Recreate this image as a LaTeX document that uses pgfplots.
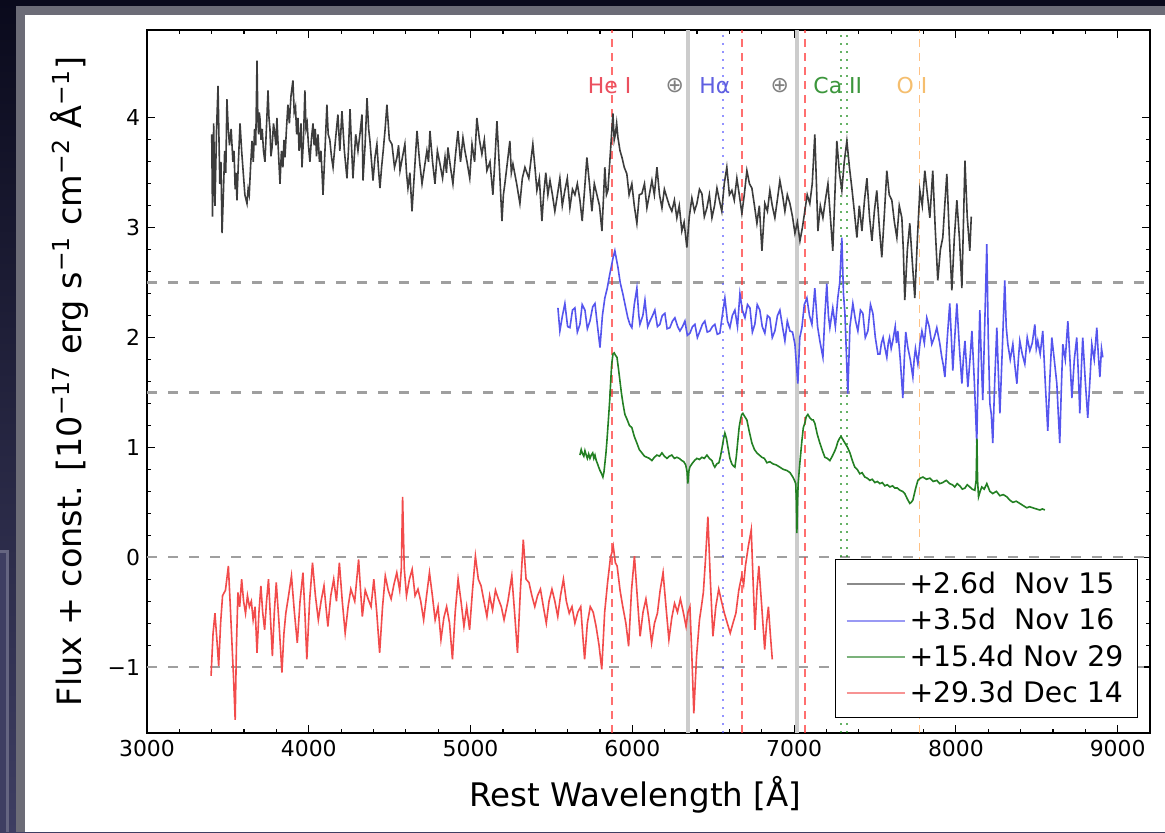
\documentclass[border=0pt]{standalone}
\usepackage{fontspec}
\setmainfont{DejaVu Sans}
\usepackage{pgfplots}
\pgfplotsset{compat=1.18}
\definecolor{bgtop}{RGB}{10,10,28}
\definecolor{bgbot}{RGB}{62,62,98}
\definecolor{spk}{RGB}{60,60,60}
\definecolor{spb}{RGB}{85,85,238}
\definecolor{spg}{RGB}{35,128,35}
\definecolor{spr}{RGB}{242,75,75}
\definecolor{hered}{RGB}{235,80,95}
\definecolor{hablue}{RGB}{95,95,225}
\definecolor{cagreen}{RGB}{60,150,60}
\definecolor{oorange}{RGB}{245,190,110}
\begin{document}
\begin{tikzpicture}[x=0.5bp,y=0.5bp]
\path[use as bounding box] (0,0) rectangle (1165,832);
\shade[top color=bgtop,bottom color=bgbot] (0,0) rectangle (1165,832);
\fill[bgbot!80!white] (-5,0) rectangle (9,282);
\fill[bgbot] (-5,0) rectangle (6,279);
\fill[gray!70!bgbot] (16,0) rectangle (1165,826);
\fill[white] (25,0) rectangle (1165,817);
\begin{axis}[
  at={(73.5bp,49.5bp)}, anchor=south west, scale only axis,
  width=501.5bp, height=351.5bp,
  xmin=3000, xmax=9200, ymin=-1.6, ymax=4.8,
  xtick={3000,4000,5000,6000,7000,8000,9000},
  xticklabels={3000,4000,5000,6000,7000,8000,9000},
  ytick={-1,0,1,2,3,4}, yticklabels={−1,0,1,2,3,4},
  minor x tick num=4, minor y tick num=4,
  tick align=inside, major tick length=4bp, minor tick length=2bp,
  every tick/.style={black, line width=0.6bp},
  axis line style={line width=0.8bp},
  ticklabel style={font=\fontsize{11}{13}\selectfont},
  xlabel={Rest Wavelength [Å]},
  ylabel={Flux + const. [10\textsuperscript{−17} erg s\textsuperscript{−1} cm\textsuperscript{−2} Å\textsuperscript{−1}]},
  xlabel style={font=\fontsize{16.3}{19}\selectfont, at={(axis description cs:0.487,-0.088)}, anchor=center},
  ylabel style={font=\fontsize{16.8}{19}\selectfont, at={(axis description cs:-0.077,0.5)}, anchor=center},
  legend style={at={(0.988,0.021)}, anchor=south east, draw=black, line width=0.6bp,
    font=\fontsize{14.2}{17}\selectfont, inner xsep=5bp, inner ysep=4bp, row sep=2bp},
  legend cell align=left,
  legend image code/.code={\draw[#1, opacity=0.6, line width=1bp] (0bp,0bp) -- (29bp,0bp);},
]
% horizontal reference lines
\addplot[forget plot, gray!75, line width=1.2bp, dash pattern=on 5bp off 5.5bp] coordinates {(3000,2.5) (9200,2.5)};
\addplot[forget plot, gray!75, line width=1.2bp, dash pattern=on 5bp off 5.5bp] coordinates {(3000,1.5) (9200,1.5)};
\addplot[forget plot, gray!75, line width=1.2bp, dash pattern=on 5bp off 5.5bp] coordinates {(3000,0) (9200,0)};
\addplot[forget plot, gray!75, line width=1.2bp, dash pattern=on 5bp off 5.5bp] coordinates {(3000,-1) (9200,-1)};
% telluric bands
\addplot[forget plot, gray!40, line width=2bp] coordinates {(6343,-1.6) (6343,4.8)};
\addplot[forget plot, gray!40, line width=2bp] coordinates {(7017,-1.6) (7017,4.8)};
% line markers
\addplot[forget plot, red!80, opacity=0.7, line width=0.9bp, dash pattern=on 4bp off 3bp] coordinates {(5876,-1.6) (5876,4.8)};
\addplot[forget plot, red!80, opacity=0.7, line width=0.9bp, dash pattern=on 4bp off 3bp] coordinates {(6678,-1.6) (6678,4.8)};
\addplot[forget plot, red!80, opacity=0.7, line width=0.9bp, dash pattern=on 4bp off 3bp] coordinates {(7065,-1.6) (7065,4.8)};
\addplot[forget plot, blue!70, opacity=0.6, line width=1bp, dash pattern=on 1.2bp off 2.8bp] coordinates {(6563,-1.6) (6563,4.8)};
\addplot[forget plot, green!50!black, opacity=0.6, line width=1bp, dash pattern=on 1.2bp off 2.8bp] coordinates {(7291,-1.6) (7291,4.8)};
\addplot[forget plot, green!50!black, opacity=0.6, line width=1bp, dash pattern=on 1.2bp off 2.8bp] coordinates {(7324,-1.6) (7324,4.8)};
\addplot[forget plot, orange!80, opacity=0.6, line width=0.8bp, dash pattern=on 4bp off 3bp] coordinates {(7774,-1.6) (7774,4.8)};
% spectra
\addplot[spk, line width=0.8bp] coordinates {
(3400,3.85)(3405,3.1)(3412,3.95)(3420,3.2)(3430,3.9)(3439,4.29)(3450,3.4)(3457,3.6)(3464,2.95)(3472,3.3)(3480,3.7)(3487,3.5)(3494,4.17)(3502,3.9)(3510,3.75)(3520,3.9)(3531,3.6)(3538,3.7)(3545,3.35)(3550,3.5)(3556,3.25)(3565,3.6)(3575,3.95)(3585,3.7)(3595,3.5)(3605,3.3)(3618,3.22)(3625,3.35)(3632,3.3)(3640,3.55)(3649,3.79)(3657,3.6)(3665,3.9)(3672,3.75)(3680,4.52)(3685,4.0)(3690,3.85)(3694,4.05)(3698,4.0)(3705,3.8)(3712,3.9)(3720,3.7)(3729,3.6)(3738,3.9)(3748,4.25)(3754,4.0)(3760,3.9)(3766,3.65)(3773,3.73)(3782,3.95)(3790,3.85)(3797,3.75)(3803,4.0)(3812,3.7)(3822,3.4)(3831,3.7)(3840,3.55)(3847,3.8)(3853,3.64)(3862,3.9)(3871,4.12)(3880,3.95)(3890,4.2)(3902,4.34)(3910,4.05)(3918,4.1)(3925,3.85)(3933,4.0)(3940,3.7)(3945,3.75)(3952,3.95)(3958,3.55)(3967,3.8)(3976,4.25)(3983,3.9)(3990,3.95)(3998,3.75)(4007,3.6)(4016,3.8)(4026,3.95)(4033,3.75)(4040,3.9)(4048,3.65)(4057,3.85)(4066,3.6)(4075,3.7)(4082,3.5)(4088,3.3)(4100,3.7)(4112,4.12)(4120,3.85)(4130,3.8)(4140,3.65)(4150,3.55)(4165,3.8)(4180,4.03)(4192,3.7)(4205,4.06)(4220,3.7)(4236,3.45)(4245,3.7)(4255,4.08)(4264,3.75)(4273,3.45)(4290,3.85)(4304,3.7)(4316,3.85)(4329,4.03)(4335,3.43)(4348,3.75)(4360,4.18)(4370,3.9)(4378,3.79)(4388,3.6)(4397,3.43)(4410,3.65)(4421,3.76)(4430,3.55)(4440,3.36)(4450,3.55)(4460,3.7)(4472,3.9)(4483,4.12)(4498,3.8)(4514,3.76)(4530,3.55)(4545,3.64)(4555,3.75)(4564,3.52)(4580,3.65)(4594,3.76)(4604,3.5)(4613,3.36)(4625,3.5)(4638,3.15)(4655,3.55)(4669,3.88)(4685,3.6)(4700,3.4)(4715,3.55)(4730,3.7)(4740,3.6)(4749,3.88)(4765,3.6)(4780,3.4)(4795,3.7)(4811,3.58)(4827,3.45)(4842,3.64)(4851,3.5)(4860,3.73)(4876,3.55)(4891,3.4)(4906,3.65)(4922,3.88)(4938,3.6)(4953,3.82)(4965,3.7)(4978,3.6)(4995,3.45)(5009,3.76)(5025,3.6)(5039,4.0)(5055,3.8)(5070,3.67)(5085,3.8)(5101,3.52)(5120,3.6)(5138,3.3)(5150,3.6)(5163,3.97)(5180,3.5)(5194,3.06)(5203,3.3)(5212,3.4)(5228,3.6)(5243,3.79)(5252,3.5)(5262,3.58)(5285,3.4)(5305,3.22)(5320,3.45)(5336,3.55)(5360,3.45)(5385,3.76)(5398,3.55)(5410,3.34)(5425,3.45)(5441,3.06)(5452,3.3)(5465,3.5)(5478,3.3)(5491,3.43)(5506,3.3)(5521,3.15)(5537,3.3)(5552,3.45)(5567,3.2)(5583,3.34)(5598,3.45)(5614,3.18)(5630,3.35)(5645,3.3)(5660,3.4)(5676,3.25)(5690,3.06)(5705,3.35)(5719,3.64)(5735,3.4)(5750,3.15)(5765,3.4)(5781,3.3)(5797,3.2)(5812,2.97)(5821,3.25)(5830,3.55)(5840,3.3)(5849,3.34)(5865,3.7)(5880,4.04)(5888,3.8)(5895,3.85)(5903,3.95)(5911,3.82)(5924,3.7)(5936,3.64)(5950,3.55)(5966,3.49)(5980,3.3)(5997,3.4)(6012,3.2)(6028,3.04)(6043,3.3)(6059,3.31)(6075,3.4)(6090,3.18)(6105,3.3)(6121,3.43)(6136,3.3)(6152,3.55)(6168,3.3)(6183,3.18)(6198,3.35)(6214,3.27)(6229,3.2)(6244,3.15)(6260,3.25)(6275,3.09)(6290,3.2)(6306,2.97)(6320,3.05)(6337,2.82)(6352,3.1)(6368,3.27)(6384,3.15)(6399,3.22)(6415,3.35)(6430,3.31)(6445,3.1)(6461,3.18)(6476,3.3)(6492,3.09)(6508,3.2)(6523,3.36)(6538,3.25)(6553,3.15)(6568,3.4)(6584,3.55)(6600,3.3)(6615,3.34)(6630,3.25)(6646,3.45)(6661,3.3)(6677,3.13)(6692,3.3)(6708,3.52)(6724,3.4)(6739,3.36)(6755,3.2)(6770,3.04)(6785,3.2)(6801,2.79)(6810,3.0)(6819,3.22)(6835,3.15)(6850,3.34)(6865,3.2)(6881,3.09)(6896,3.25)(6912,3.43)(6928,3.3)(6943,3.15)(6958,3.3)(6974,3.22)(6990,3.1)(7005,2.95)(7020,3.05)(7036,2.88)(7051,3.0)(7066,3.15)(7081,3.3)(7097,3.22)(7112,3.4)(7128,3.85)(7138,3.4)(7147,2.97)(7162,3.2)(7178,3.09)(7193,3.25)(7209,3.4)(7224,3.1)(7239,2.79)(7252,3.3)(7264,3.79)(7280,3.5)(7295,3.34)(7310,3.6)(7326,3.79)(7342,3.55)(7357,3.36)(7372,3.15)(7388,2.91)(7403,3.2)(7419,2.97)(7435,3.25)(7450,3.45)(7466,3.1)(7481,2.88)(7496,3.15)(7511,3.34)(7527,3.0)(7542,2.73)(7557,3.1)(7573,3.52)(7588,3.3)(7604,3.25)(7620,3.05)(7635,2.91)(7650,3.2)(7666,3.09)(7675,2.8)(7684,2.34)(7700,2.8)(7715,3.04)(7730,2.7)(7746,2.36)(7762,2.9)(7777,3.34)(7792,3.2)(7808,3.52)(7824,3.3)(7839,3.09)(7848,3.3)(7857,3.52)(7872,3.0)(7888,2.52)(7904,2.8)(7919,2.91)(7931,3.2)(7944,3.49)(7960,2.9)(7975,2.43)(7990,2.9)(8006,3.25)(8022,2.9)(8037,2.45)(8046,3.0)(8056,3.61)(8070,3.1)(8086,2.79)(8095,3.1)
};
\addlegendentry{+2.6d\ \ Nov 15}
\addplot[spb, line width=0.8bp] coordinates {
(5540,2.27)(5552,2.06)(5568,2.2)(5583,2.31)(5600,2.1)(5614,2.09)(5630,2.25)(5645,2.27)(5660,2.05)(5676,2.12)(5690,2.3)(5707,2.25)(5722,2.08)(5738,2.15)(5755,2.28)(5769,2.31)(5785,2.1)(5800,1.91)(5815,2.2)(5830,2.36)(5845,2.45)(5861,2.58)(5880,2.72)(5892,2.79)(5911,2.64)(5925,2.5)(5941,2.4)(5955,2.3)(5972,2.18)(5985,2.12)(5997,2.09)(6012,2.3)(6028,2.45)(6040,2.2)(6047,2.12)(6065,2.2)(6078,2.34)(6095,2.1)(6109,2.15)(6125,2.2)(6139,2.25)(6155,2.1)(6170,2.12)(6185,2.2)(6201,2.22)(6215,2.08)(6232,2.09)(6248,2.15)(6263,2.18)(6280,2.1)(6294,2.06)(6310,2.1)(6325,2.15)(6340,2.02)(6356,2.04)(6372,2.1)(6387,2.12)(6402,2.0)(6418,2.06)(6433,2.12)(6448,2.15)(6463,2.05)(6479,2.06)(6495,2.1)(6510,2.12)(6525,2.03)(6541,2.04)(6556,2.2)(6572,2.36)(6588,2.15)(6603,2.09)(6618,2.2)(6634,2.25)(6650,2.1)(6665,2.4)(6680,2.25)(6696,2.18)(6712,2.3)(6727,2.27)(6742,2.05)(6757,2.12)(6772,2.3)(6788,2.25)(6803,2.1)(6819,2.04)(6835,2.2)(6850,2.18)(6865,2.0)(6881,2.06)(6897,2.2)(6912,2.25)(6928,2.1)(6943,1.97)(6958,2.15)(6974,2.06)(6990,2.05)(7005,1.94)(7023,1.58)(7035,2.0)(7048,2.09)(7063,2.3)(7079,2.36)(7095,2.2)(7110,2.12)(7120,2.3)(7128,2.45)(7145,2.1)(7159,1.97)(7178,1.82)(7190,2.2)(7202,2.49)(7212,2.2)(7221,2.09)(7239,2.27)(7255,2.1)(7270,2.36)(7282,2.5)(7295,2.91)(7305,2.4)(7314,2.22)(7332,1.49)(7345,2.1)(7363,2.31)(7380,2.15)(7394,2.06)(7410,2.25)(7425,2.22)(7440,2.0)(7456,2.06)(7472,2.3)(7487,2.22)(7502,2.0)(7518,1.85)(7530,1.85)(7540,1.95)(7550,2.0)(7562,1.9)(7573,1.82)(7582,1.95)(7590,2.0)(7600,1.9)(7610,1.97)(7625,2.1)(7633,1.95)(7641,2.06)(7656,1.8)(7672,1.45)(7681,1.8)(7690,2.05)(7703,1.91)(7718,1.8)(7734,1.64)(7742,1.8)(7750,1.9)(7765,1.76)(7778,1.95)(7790,2.06)(7805,1.95)(7820,2.18)(7835,2.1)(7851,1.94)(7866,2.0)(7882,2.09)(7900,1.95)(7913,1.82)(7922,1.75)(7932,1.64)(7947,2.0)(7962,2.31)(7972,2.0)(7981,1.7)(7993,2.0)(8006,2.31)(8022,1.9)(8037,1.58)(8046,1.8)(8056,1.97)(8065,1.75)(8074,1.55)(8087,1.8)(8099,2.06)(8114,1.6)(8129,1.04)(8138,1.7)(8148,2.25)(8157,1.8)(8166,1.43)(8178,2.1)(8191,2.85)(8200,2.0)(8210,1.4)(8219,1.3)(8228,1.04)(8240,1.6)(8253,2.09)(8262,1.7)(8272,1.31)(8287,1.9)(8302,2.52)(8311,2.1)(8321,1.94)(8336,1.8)(8352,1.94)(8364,1.75)(8377,1.58)(8386,1.8)(8395,1.97)(8410,1.85)(8426,1.76)(8441,2.0)(8457,1.88)(8472,1.95)(8488,2.12)(8497,1.9)(8506,1.97)(8521,1.85)(8537,2.06)(8552,1.6)(8568,1.15)(8580,1.6)(8593,2.0)(8608,1.8)(8624,1.58)(8633,1.3)(8642,1.04)(8651,1.5)(8661,1.94)(8676,1.8)(8692,2.15)(8705,1.8)(8717,1.45)(8732,1.8)(8747,2.0)(8756,1.7)(8766,1.31)(8775,1.7)(8784,2.0)(8800,1.6)(8815,1.27)(8828,1.6)(8840,1.94)(8855,1.8)(8871,2.09)(8880,1.85)(8890,1.64)(8900,1.9)(8908,1.82)
};
\addlegendentry{+3.5d\ \ Nov 16}
\addplot[spg, line width=0.8bp] coordinates {
(5676,0.93)(5684,0.98)(5690,0.95)(5700,0.92)(5707,0.97)(5715,0.93)(5722,0.9)(5730,0.94)(5738,0.9)(5746,0.93)(5755,0.95)(5762,0.9)(5769,0.93)(5777,0.88)(5785,0.85)(5792,0.82)(5800,0.79)(5810,0.76)(5818,0.73)(5825,0.78)(5830,0.85)(5837,0.95)(5843,1.06)(5852,1.25)(5861,1.45)(5867,1.62)(5872,1.75)(5880,1.85)(5888,1.86)(5895,1.84)(5905,1.82)(5914,1.72)(5923,1.61)(5932,1.5)(5942,1.4)(5954,1.3)(5966,1.26)(5982,1.2)(5997,1.18)(6012,1.1)(6028,1.04)(6043,0.98)(6059,0.95)(6075,0.92)(6090,0.91)(6105,0.9)(6121,0.88)(6136,0.91)(6152,0.93)(6168,0.92)(6183,0.95)(6198,0.92)(6214,0.9)(6229,0.92)(6244,0.93)(6260,0.9)(6275,0.91)(6290,0.9)(6306,0.88)(6318,0.87)(6330,0.84)(6338,0.78)(6343,0.67)(6349,0.78)(6355,0.82)(6368,0.85)(6384,0.88)(6399,0.9)(6415,0.89)(6430,0.91)(6445,0.9)(6461,0.93)(6476,0.9)(6492,0.88)(6502,0.84)(6510,0.82)(6522,0.85)(6535,0.86)(6545,0.92)(6555,1.0)(6564,1.08)(6572,1.13)(6582,1.08)(6591,1.0)(6603,0.9)(6615,0.85)(6625,0.83)(6634,0.82)(6643,0.92)(6652,1.06)(6660,1.18)(6668,1.25)(6676,1.3)(6683,1.31)(6695,1.28)(6708,1.25)(6722,1.15)(6739,1.04)(6755,0.98)(6770,0.95)(6785,0.93)(6801,0.91)(6816,0.9)(6832,0.86)(6850,0.87)(6869,0.85)(6890,0.84)(6912,0.82)(6933,0.8)(6955,0.79)(6975,0.77)(6992,0.73)(7002,0.7)(7010,0.67)(7014,0.5)(7017,0.22)(7021,0.5)(7025,0.67)(7035,0.85)(7048,1.06)(7057,1.18)(7066,1.22)(7075,1.28)(7085,1.3)(7097,1.27)(7110,1.25)(7118,1.25)(7128,1.22)(7143,1.12)(7159,1.04)(7175,0.97)(7190,0.91)(7205,0.9)(7221,0.88)(7236,0.92)(7252,0.97)(7260,1.0)(7270,1.05)(7280,1.08)(7290,1.1)(7302,1.07)(7314,1.04)(7330,1.0)(7345,0.95)(7360,0.88)(7375,0.82)(7390,0.8)(7406,0.76)(7420,0.77)(7437,0.73)(7452,0.72)(7468,0.7)(7483,0.71)(7499,0.68)(7515,0.69)(7530,0.67)(7545,0.68)(7561,0.65)(7576,0.66)(7592,0.64)(7608,0.65)(7623,0.63)(7638,0.63)(7654,0.61)(7670,0.6)(7684,0.58)(7700,0.53)(7715,0.49)(7724,0.5)(7734,0.52)(7750,0.62)(7765,0.7)(7780,0.72)(7796,0.73)(7818,0.71)(7839,0.72)(7860,0.69)(7882,0.7)(7900,0.67)(7919,0.68)(7940,0.7)(7962,0.67)(7978,0.66)(7993,0.64)(8008,0.67)(8024,0.65)(8040,0.62)(8056,0.63)(8070,0.66)(8086,0.64)(8100,0.62)(8117,0.61)(8125,0.7)(8130,1.08)(8134,0.7)(8140,0.55)(8150,0.6)(8160,0.64)(8175,0.62)(8191,0.67)(8210,0.6)(8228,0.58)(8250,0.6)(8272,0.56)(8293,0.57)(8315,0.55)(8333,0.52)(8352,0.5)(8373,0.51)(8395,0.49)(8416,0.47)(8438,0.45)(8456,0.46)(8475,0.45)(8497,0.44)(8519,0.43)(8535,0.44)(8550,0.43)
};
\addlegendentry{+15.4d Nov 29}
\addplot[spr, line width=0.8bp] coordinates {
(3396,-1.08)(3408,-0.7)(3420,-0.51)(3432,-0.75)(3443,-0.99)(3455,-0.6)(3467,-0.35)(3485,-0.3)(3503,-0.08)(3515,-0.45)(3526,-0.81)(3535,-1.1)(3545,-1.48)(3553,-0.8)(3562,-0.32)(3573,-0.45)(3585,-0.2)(3597,-0.4)(3609,-0.51)(3621,-0.35)(3633,-0.45)(3645,-0.4)(3656,-0.57)(3668,-0.45)(3680,-0.87)(3692,-0.5)(3704,-0.26)(3715,-0.5)(3727,-0.66)(3739,-0.4)(3751,-0.2)(3763,-0.55)(3775,-0.9)(3787,-0.5)(3799,-0.23)(3816,-0.6)(3834,-1.05)(3846,-0.7)(3858,-0.51)(3875,-0.35)(3893,-0.17)(3911,-0.5)(3929,-0.78)(3946,-0.4)(3964,-0.14)(3976,-0.5)(3988,-0.93)(4005,-0.4)(4023,-0.05)(4041,-0.35)(4059,-0.57)(4076,-0.4)(4094,-0.26)(4106,-0.45)(4118,-0.63)(4136,-0.35)(4154,-0.2)(4171,-0.4)(4189,-0.05)(4207,-0.4)(4225,-0.69)(4243,-0.45)(4260,-0.29)(4284,-0.4)(4308,-0.02)(4320,-0.3)(4331,-0.54)(4349,-0.3)(4367,-0.38)(4385,-0.45)(4402,-0.2)(4420,-0.5)(4438,-0.87)(4456,-0.45)(4473,-0.17)(4491,-0.3)(4509,-0.38)(4526,-0.25)(4544,-0.14)(4562,-0.3)(4572,-0.1)(4580,0.55)(4590,-0.1)(4604,-0.35)(4622,-0.2)(4639,-0.11)(4657,-0.35)(4675,-0.29)(4692,-0.4)(4710,-0.57)(4728,-0.35)(4746,-0.14)(4764,-0.35)(4781,-0.57)(4799,-0.45)(4817,-0.75)(4835,-0.55)(4852,-0.45)(4870,-0.6)(4888,-0.93)(4905,-0.5)(4923,-0.2)(4941,-0.4)(4959,-0.63)(4976,-0.45)(4994,-0.66)(5012,-0.3)(5030,0.01)(5048,-0.2)(5065,-0.26)(5083,-0.4)(5101,-0.54)(5118,-0.35)(5136,-0.48)(5154,-0.3)(5172,-0.38)(5190,-0.45)(5207,-0.57)(5231,-0.4)(5255,-0.17)(5272,-0.5)(5290,-0.87)(5308,-0.3)(5326,0.16)(5343,-0.2)(5361,-0.23)(5379,-0.35)(5397,-0.45)(5414,-0.35)(5432,-0.29)(5450,-0.45)(5468,-0.6)(5485,-0.4)(5503,-0.29)(5521,-0.4)(5539,-0.54)(5556,-0.35)(5574,-0.2)(5592,-0.4)(5610,-0.51)(5627,-0.45)(5645,-0.6)(5663,-0.5)(5681,-0.45)(5693,-0.7)(5705,-0.93)(5722,-0.6)(5740,-0.45)(5758,-0.5)(5776,-0.63)(5794,-0.8)(5811,-1.02)(5829,-0.5)(5847,-0.23)(5865,0.0)(5875,0.05)(5882,0.1)(5895,-0.05)(5906,-0.08)(5924,-0.3)(5941,-0.45)(5960,-0.6)(5977,-0.81)(5995,-0.3)(6013,0.01)(6030,-0.35)(6048,-0.72)(6066,-0.5)(6084,-0.38)(6101,-0.55)(6119,-0.78)(6137,-0.6)(6155,-0.51)(6172,-0.3)(6190,-0.14)(6208,-0.45)(6226,-0.75)(6244,-0.55)(6261,-0.42)(6279,-0.5)(6297,-0.38)(6315,-0.5)(6332,-0.63)(6344,-0.5)(6356,-0.45)(6368,-0.9)(6380,-1.42)(6397,-0.9)(6415,-0.57)(6427,-0.45)(6439,-0.32)(6453,0.0)(6467,0.37)(6482,-0.2)(6498,-0.72)(6516,-0.45)(6534,-0.29)(6551,-0.4)(6569,-0.51)(6587,-0.6)(6605,-0.69)(6622,-0.6)(6640,-0.51)(6658,-0.3)(6676,-0.17)(6688,-0.25)(6699,-0.08)(6717,0.1)(6735,0.25)(6746,-0.2)(6758,-0.66)(6770,-0.3)(6782,-0.08)(6800,-0.45)(6818,-0.84)(6830,-0.6)(6841,-0.45)(6853,-0.7)(6865,-0.93)
};
\addlegendentry{+29.3d Dec 14}
% line labels
\node[font=\fontsize{11}{13}\selectfont, text=hered] at (axis cs:5860,4.29) {He I};
\node[font=\fontsize{11}{13}\selectfont, text=gray] at (axis cs:6263,4.29) {⊕};
\node[font=\fontsize{11}{13}\selectfont, text=hablue] at (axis cs:6510,4.29) {Hα};
\node[font=\fontsize{11}{13}\selectfont, text=gray] at (axis cs:6912,4.29) {⊕};
\node[font=\fontsize{11}{13}\selectfont, text=cagreen] at (axis cs:7270,4.29) {Ca II};
\node[font=\fontsize{11}{13}\selectfont, text=oorange] at (axis cs:7728,4.29) {O I};
\end{axis}
\end{tikzpicture}
\end{document}
